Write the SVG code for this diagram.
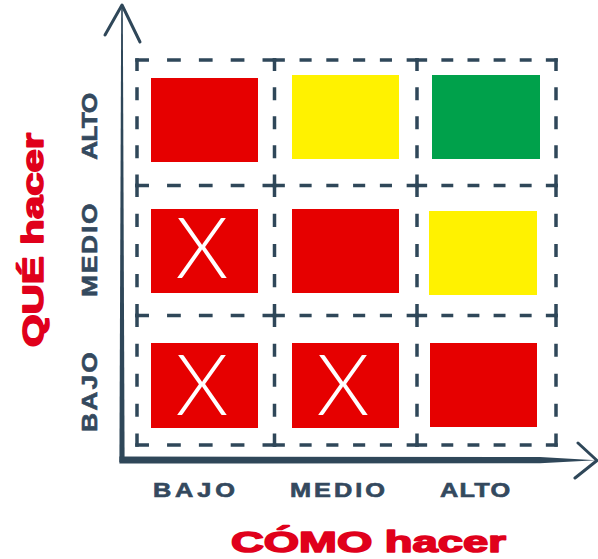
<svg xmlns="http://www.w3.org/2000/svg" width="598" height="559" viewBox="0 0 598 559">
  <style>
    .grid path { fill: none; stroke: #2f4759; stroke-width: 3.5; stroke-dasharray: 9 19; stroke-linecap: square; }
    .red { fill: #e60000; }
    .yellow { fill: #fff200; }
    .green { fill: #00a14b; }
    .mark { font-family: Lato, "Liberation Sans", sans-serif; font-weight: 300; font-size: 85px; fill: #ffffff; text-anchor: middle; }
    .tick { font-family: "Liberation Sans", Arial, sans-serif; font-weight: bold; fill: #34495e; stroke: #34495e; stroke-width: 0.6; }
    .bottom { font-size: 19.5px; }
    .side { font-size: 22px; }
    .title { font-family: "Liberation Sans", Arial, sans-serif; font-weight: bold; font-size: 30px; fill: #e0001b; stroke: #e0001b; stroke-width: 1.6; stroke-linejoin: round; }
    .axis { fill: #2f4759; }
    .head { fill: none; stroke: #2f4759; stroke-width: 3; stroke-linecap: round; stroke-linejoin: round; }
  </style>

  <rect width="598" height="559" fill="#ffffff"/>

  <!-- dashed cell frames; each side starts and ends on a dash -->
  <g id="grid" class="grid">
    <path d="M137 60 H274.5" pathLength="121"/>
    <path d="M274.5 60 H417" pathLength="149"/>
    <path d="M417 60 H556" pathLength="149"/>
    <path d="M137 185.5 H274.5" pathLength="121"/>
    <path d="M274.5 185.5 H417" pathLength="149"/>
    <path d="M417 185.5 H556" pathLength="149"/>
    <path d="M137 315.5 H274.5" pathLength="121"/>
    <path d="M274.5 315.5 H417" pathLength="149"/>
    <path d="M417 315.5 H556" pathLength="149"/>
    <path d="M137 445 H274.5" pathLength="121"/>
    <path d="M274.5 445 H417" pathLength="149"/>
    <path d="M417 445 H556" pathLength="149"/>

    <path d="M137 60 V185.5" pathLength="121"/>
    <path d="M137 185.5 V315.5" pathLength="121"/>
    <path d="M137 315.5 V445" pathLength="121"/>
    <path d="M274.5 60 V185.5" pathLength="121"/>
    <path d="M274.5 185.5 V315.5" pathLength="121"/>
    <path d="M274.5 315.5 V445" pathLength="121"/>
    <path d="M417 60 V185.5" pathLength="121"/>
    <path d="M417 185.5 V315.5" pathLength="121"/>
    <path d="M417 315.5 V445" pathLength="121"/>
    <path d="M556 60 V185.5" pathLength="121"/>
    <path d="M556 185.5 V315.5" pathLength="121"/>
    <path d="M556 315.5 V445" pathLength="121"/>
  </g>

  <!-- matrix cells: row = QUÉ (alto, medio, bajo), column = CÓMO (bajo, medio, alto) -->
  <g id="cell-alto-bajo"><rect class="red" x="151" y="78" width="107" height="84"/></g>
  <g id="cell-alto-medio"><rect class="yellow" x="292" y="75" width="107" height="84"/></g>
  <g id="cell-alto-alto"><rect class="green" x="432" y="75" width="108" height="84"/></g>

  <g id="cell-medio-bajo">
    <rect class="red" x="151" y="209" width="107" height="84"/>
    <text class="mark" x="202" y="278">X</text>
  </g>
  <g id="cell-medio-medio"><rect class="red" x="292" y="209" width="107" height="84"/></g>
  <g id="cell-medio-alto"><rect class="yellow" x="429" y="211" width="108" height="84"/></g>

  <g id="cell-bajo-bajo">
    <rect class="red" x="151" y="343" width="107" height="85"/>
    <text class="mark" x="202" y="415">X</text>
  </g>
  <g id="cell-bajo-medio">
    <rect class="red" x="292" y="343" width="107" height="85"/>
    <text class="mark" x="343" y="415">X</text>
  </g>
  <g id="cell-bajo-alto"><rect class="red" x="430" y="343" width="107" height="84"/></g>

  <!-- axes: tapered strokes with open arrowheads -->
  <g id="axes">
    <polygon class="axis" points="121.2,7 122.8,7 124.6,462 119.4,462"/>
    <polyline class="head" points="105,35 122,5 140,42"/>
    <polygon class="axis" points="119.4,456.5 540,457 596,460.3 540,463.2 119.4,463.5"/>
    <polyline class="head" points="578,443 597,460.5 575,478"/>
  </g>

  <!-- axis value labels (glyphs widened along the reading direction) -->
  <g id="labels-x">
    <text class="tick bottom" transform="translate(153,497) scale(1.3,1)" textLength="63" lengthAdjust="spacing">BAJO</text>
    <text class="tick bottom" transform="translate(290,497) scale(1.3,1)" textLength="73" lengthAdjust="spacing">MEDIO</text>
    <text class="tick bottom" transform="translate(440,497) scale(1.3,1)" textLength="54" lengthAdjust="spacing">ALTO</text>
  </g>
  <g id="labels-y">
    <text class="tick side" transform="translate(96.5,432) rotate(-90) scale(1.2,1)" textLength="66.5" lengthAdjust="spacing">BAJO</text>
    <text class="tick side" transform="translate(96.5,297) rotate(-90) scale(1.2,1)" textLength="78" lengthAdjust="spacing">MEDIO</text>
    <text class="tick side" transform="translate(96.5,160) rotate(-90) scale(1.2,1)" textLength="56" lengthAdjust="spacing">ALTO</text>
  </g>

  <!-- axis titles -->
  <g id="titles">
    <text class="title" x="231" y="552" textLength="275" lengthAdjust="spacingAndGlyphs">CÓMO hacer</text>
    <text class="title" transform="translate(42.5,347) rotate(-90)" textLength="214" lengthAdjust="spacingAndGlyphs">QUÉ hacer</text>
  </g>
</svg>
